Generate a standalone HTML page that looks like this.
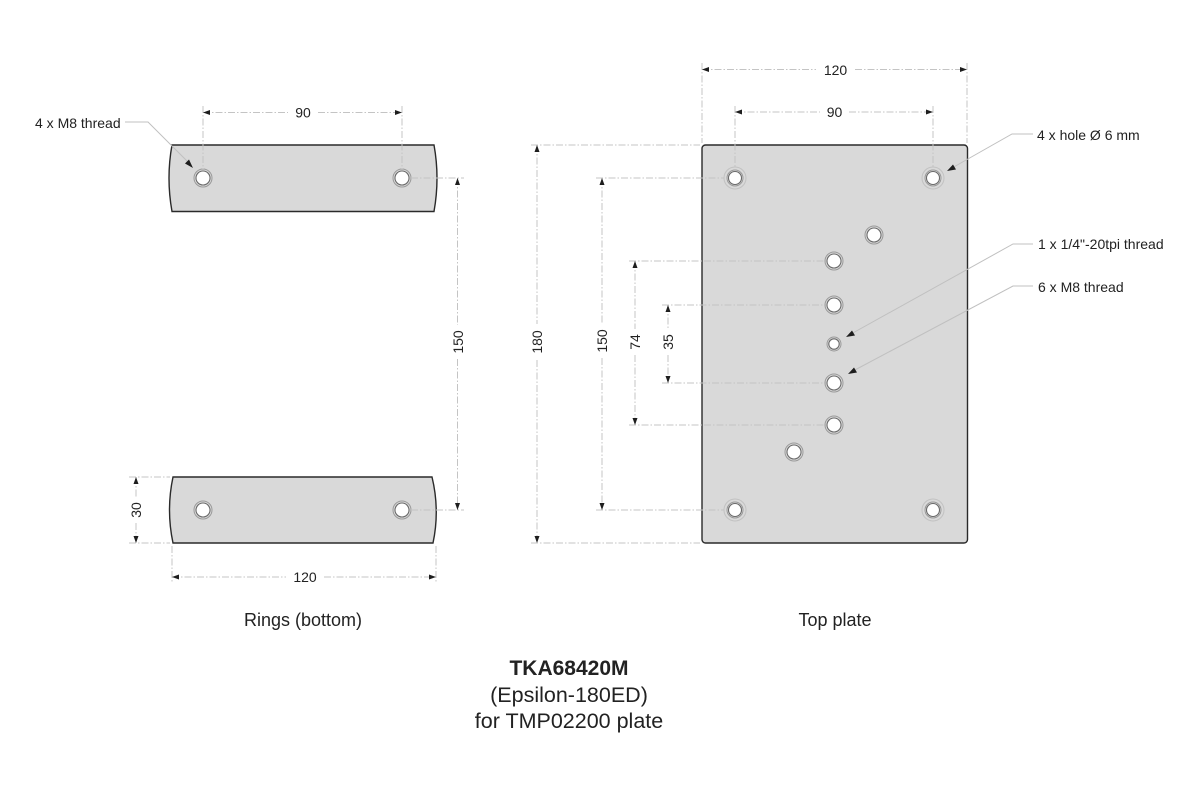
<!DOCTYPE html>
<html><head><meta charset="utf-8"><style>
html,body{margin:0;padding:0;background:#fff;}
svg{display:block;}
text{font-family:"Liberation Sans",Arial,sans-serif;fill:#222;}
.dim{stroke:#c4c4c4;stroke-width:1;stroke-dasharray:7 2 1.5 2;fill:none;}
.lead{stroke:#c0c0c0;stroke-width:1;fill:none;}
.ar{fill:#1e1e1e;}
.body{fill:#d9d9d9;stroke:#2a2a2a;stroke-width:1.4;}
.hw{fill:#fff;stroke:#6a6a6a;stroke-width:1.1;}
.hr{fill:none;stroke:#9a9a9a;stroke-width:1;}
.hr2{fill:none;stroke:#c2c2c2;stroke-width:1;}
.dt{font-size:14px;}
.lb{font-size:14px;}
</style></head><body>
<svg width="1200" height="800" viewBox="0 0 1200 800" xmlns="http://www.w3.org/2000/svg">

<!-- ===== Rings ===== -->
<path class="body" d="M172,145 L434,145 Q440,178 434,211.5 L172,211.5 Q166,178 172,145 Z"/>
<path class="body" d="M173,477 L432,477 Q440,510 433,543 L173,543 Q166,510 173,477 Z"/>

<!-- ring holes -->
<g>
<circle class="hr" cx="203" cy="178" r="9"/><circle class="hw" cx="203" cy="178" r="7"/>
<circle class="hr" cx="402" cy="178" r="9"/><circle class="hw" cx="402" cy="178" r="7"/>
<circle class="hr" cx="203" cy="510" r="9"/><circle class="hw" cx="203" cy="510" r="7"/>
<circle class="hr" cx="402" cy="510" r="9"/><circle class="hw" cx="402" cy="510" r="7"/>
</g>

<!-- ring extension lines -->
<line class="dim" x1="203" y1="106" x2="203" y2="169"/>
<line class="dim" x1="402" y1="106" x2="402" y2="169"/>
<line class="dim" x1="411" y1="178" x2="464" y2="178"/>
<line class="dim" x1="411" y1="510" x2="464" y2="510"/>
<line class="dim" x1="129" y1="477" x2="170" y2="477"/>
<line class="dim" x1="129" y1="543" x2="170" y2="543"/>
<line class="dim" x1="172" y1="546" x2="172" y2="582"/>
<line class="dim" x1="436" y1="546" x2="436" y2="582"/>

<!-- ring 90 -->
<line class="dim" x1="203" y1="112.5" x2="288" y2="112.5"/>
<line class="dim" x1="318" y1="112.5" x2="402" y2="112.5"/>
<polygon class="ar" points="203,112.5 210,110 210,115"/>
<polygon class="ar" points="402,112.5 395,110 395,115"/>
<text class="dt" x="303" y="117.5" text-anchor="middle">90</text>

<!-- ring 150 -->
<line class="dim" x1="457.5" y1="178" x2="457.5" y2="325"/>
<line class="dim" x1="457.5" y1="359" x2="457.5" y2="510"/>
<polygon class="ar" points="457.5,178 455,185 460,185"/>
<polygon class="ar" points="457.5,510 455,503 460,503"/>
<text class="dt" transform="translate(463,342) rotate(-90)" text-anchor="middle">150</text>

<!-- ring 30 -->
<line class="dim" x1="136" y1="477" x2="136" y2="497"/>
<line class="dim" x1="136" y1="523" x2="136" y2="543"/>
<polygon class="ar" points="136,477 133.5,484 138.5,484"/>
<polygon class="ar" points="136,543 133.5,536 138.5,536"/>
<text class="dt" transform="translate(141,510) rotate(-90)" text-anchor="middle">30</text>

<!-- ring 120 -->
<line class="dim" x1="172" y1="577" x2="286" y2="577"/>
<line class="dim" x1="324" y1="577" x2="436" y2="577"/>
<polygon class="ar" points="172,577 179,574.5 179,579.5"/>
<polygon class="ar" points="436,577 429,574.5 429,579.5"/>
<text class="dt" x="305" y="582" text-anchor="middle">120</text>

<!-- 4 x M8 thread label -->
<text class="lb" x="35" y="128">4 x M8 thread</text>
<polyline class="lead" points="125,122 148,122 190,164"/>
<polygon class="ar" points="193,168 185,163.5 189,159.5"/>

<!-- ===== Top plate ===== -->
<rect class="body" x="702" y="145" width="265.5" height="398" rx="3.5" ry="3.5"/>

<!-- plate extension lines -->
<line class="dim" x1="702" y1="63" x2="702" y2="143"/>
<line class="dim" x1="967" y1="63" x2="967" y2="143"/>
<line class="dim" x1="735" y1="106" x2="735" y2="167"/>
<line class="dim" x1="933" y1="106" x2="933" y2="167"/>
<line class="dim" x1="531" y1="145" x2="700" y2="145"/>
<line class="dim" x1="531" y1="543" x2="700" y2="543"/>
<line class="dim" x1="596" y1="178" x2="724" y2="178"/>
<line class="dim" x1="596" y1="510" x2="724" y2="510"/>
<line class="dim" x1="629" y1="261" x2="826" y2="261"/>
<line class="dim" x1="629" y1="425" x2="826" y2="425"/>
<line class="dim" x1="662" y1="305" x2="826" y2="305"/>
<line class="dim" x1="662" y1="383" x2="826" y2="383"/>

<!-- plate holes -->
<g>
<circle class="hr2" cx="735" cy="178" r="11"/><circle class="hr" cx="735" cy="178" r="8"/><circle class="hw" cx="735" cy="178" r="6.5"/>
<circle class="hr2" cx="933" cy="178" r="11"/><circle class="hr" cx="933" cy="178" r="8"/><circle class="hw" cx="933" cy="178" r="6.5"/>
<circle class="hr2" cx="735" cy="510" r="11"/><circle class="hr" cx="735" cy="510" r="8"/><circle class="hw" cx="735" cy="510" r="6.5"/>
<circle class="hr2" cx="933" cy="510" r="11"/><circle class="hr" cx="933" cy="510" r="8"/><circle class="hw" cx="933" cy="510" r="6.5"/>
<circle class="hr" cx="874" cy="235" r="9"/><circle class="hw" cx="874" cy="235" r="7"/>
<circle class="hr" cx="834" cy="261" r="9"/><circle class="hw" cx="834" cy="261" r="7"/>
<circle class="hr" cx="834" cy="305" r="9"/><circle class="hw" cx="834" cy="305" r="7"/>
<circle class="hr" cx="834" cy="344" r="7"/><circle class="hw" cx="834" cy="344" r="5.2"/>
<circle class="hr" cx="834" cy="383" r="9"/><circle class="hw" cx="834" cy="383" r="7"/>
<circle class="hr" cx="834" cy="425" r="9"/><circle class="hw" cx="834" cy="425" r="7"/>
<circle class="hr" cx="794" cy="452" r="9"/><circle class="hw" cx="794" cy="452" r="7"/>
</g>

<!-- plate 120 -->
<line class="dim" x1="702" y1="69.5" x2="816" y2="69.5"/>
<line class="dim" x1="855" y1="69.5" x2="967" y2="69.5"/>
<polygon class="ar" points="702,69.5 709,67 709,72"/>
<polygon class="ar" points="967,69.5 960,67 960,72"/>
<text class="dt" x="835.5" y="75" text-anchor="middle">120</text>

<!-- plate 90 -->
<line class="dim" x1="735" y1="112" x2="820" y2="112"/>
<line class="dim" x1="849" y1="112" x2="933" y2="112"/>
<polygon class="ar" points="735,112 742,109.5 742,114.5"/>
<polygon class="ar" points="933,112 926,109.5 926,114.5"/>
<text class="dt" x="834.5" y="117" text-anchor="middle">90</text>

<!-- plate 180 -->
<line class="dim" x1="537" y1="145" x2="537" y2="324"/>
<line class="dim" x1="537" y1="360" x2="537" y2="543"/>
<polygon class="ar" points="537,145 534.5,152 539.5,152"/>
<polygon class="ar" points="537,543 534.5,536 539.5,536"/>
<text class="dt" transform="translate(542,342) rotate(-90)" text-anchor="middle">180</text>

<!-- plate 150 -->
<line class="dim" x1="602" y1="178" x2="602" y2="323"/>
<line class="dim" x1="602" y1="358" x2="602" y2="510"/>
<polygon class="ar" points="602,178 599.5,185 604.5,185"/>
<polygon class="ar" points="602,510 599.5,503 604.5,503"/>
<text class="dt" transform="translate(607,341) rotate(-90)" text-anchor="middle">150</text>

<!-- plate 74 -->
<line class="dim" x1="635" y1="261" x2="635" y2="329"/>
<line class="dim" x1="635" y1="355" x2="635" y2="425"/>
<polygon class="ar" points="635,261 632.5,268 637.5,268"/>
<polygon class="ar" points="635,425 632.5,418 637.5,418"/>
<text class="dt" transform="translate(640,342) rotate(-90)" text-anchor="middle">74</text>

<!-- plate 35 -->
<line class="dim" x1="668" y1="305" x2="668" y2="329"/>
<line class="dim" x1="668" y1="355" x2="668" y2="383"/>
<polygon class="ar" points="668,305 665.5,312 670.5,312"/>
<polygon class="ar" points="668,383 665.5,376 670.5,376"/>
<text class="dt" transform="translate(673,342) rotate(-90)" text-anchor="middle">35</text>

<!-- leaders right -->
<text class="lb" x="1037" y="140">4 x hole Ø 6 mm</text>
<polyline class="lead" points="1033,134 1012,134 952,168"/>
<polygon class="ar" points="947,171 953,164.5 956,169.5"/>

<text class="lb" x="1038" y="249">1 x 1/4"-20tpi thread</text>
<polyline class="lead" points="1033,244 1013,244 851,334"/>
<polygon class="ar" points="846,337 852,330.5 855,335.5"/>

<text class="lb" x="1038" y="292">6 x M8 thread</text>
<polyline class="lead" points="1033,286 1013,286 853,371"/>
<polygon class="ar" points="848,374 854,367.5 857,372.5"/>

<!-- captions -->
<text x="303" y="626" font-size="18" text-anchor="middle">Rings (bottom)</text>
<text x="835" y="626" font-size="18" text-anchor="middle">Top plate</text>
<text x="569" y="675" font-size="21" font-weight="bold" text-anchor="middle">TKA68420M</text>
<text x="569" y="702" font-size="21.5" text-anchor="middle">(Epsilon-180ED)</text>
<text x="569" y="728" font-size="21.5" text-anchor="middle">for TMP02200 plate</text>
</svg>
</body></html>
